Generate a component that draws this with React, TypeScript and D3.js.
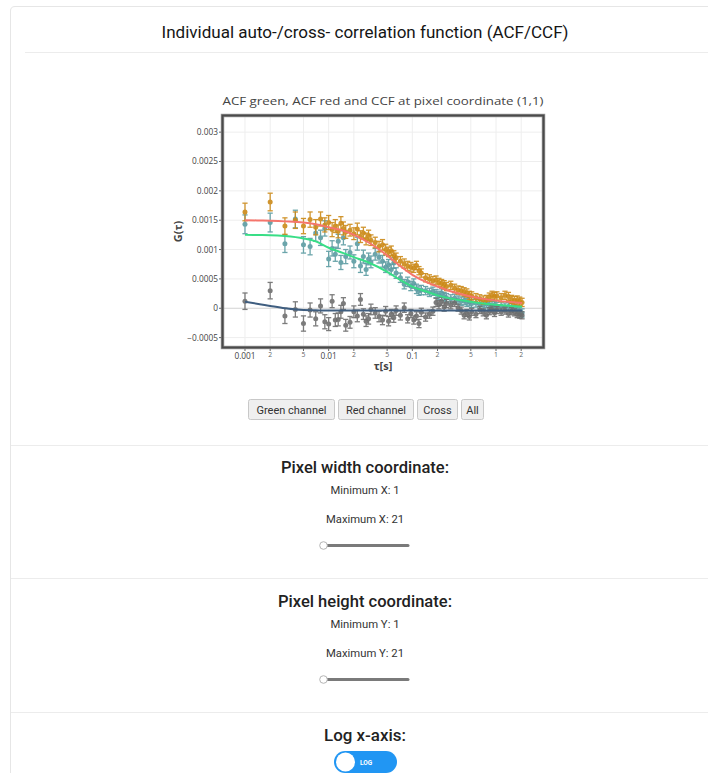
import React from 'react';
import * as d3 from 'd3';

// Lag times (s) of the multiple-tau correlator
const TAU = [
  0.001, 0.002, 0.003, 0.004, 0.005, 0.006, 0.007, 0.008, 0.009, 0.01, 0.011, 0.012, 0.013, 0.014, 0.015, 0.016,
  0.018, 0.02, 0.022, 0.024, 0.026, 0.028, 0.03, 0.032,
  0.036, 0.04, 0.044, 0.048, 0.052, 0.056, 0.06, 0.064,
  0.072, 0.08, 0.088, 0.096, 0.104, 0.112, 0.12, 0.128,
  0.144, 0.16, 0.176, 0.192, 0.208, 0.224, 0.24, 0.256,
  0.288, 0.32, 0.352, 0.384, 0.416, 0.448, 0.48, 0.512,
  0.576, 0.64, 0.704, 0.768, 0.832, 0.896, 0.96, 1.024,
  1.152, 1.28, 1.408, 1.536, 1.664, 1.792, 1.92, 2.048,
];

// ACF of the green channel
const ACF_GREEN = [
  0.00143, 0.00146, 0.0011, 0.00152, 0.00108, 0.00105, 0.00128, 0.0012, 0.00136, 0.00084, 0.00102, 0.00092, 0.00114, 0.00078, 0.0012, 0.00088,
  0.00095, 0.0008, 0.0011, 0.00072, 0.00088, 0.00066, 0.00084, 0.00079,
  0.00092, 0.00087, 0.0008, 0.0007, 0.00074, 0.00066, 0.00077, 0.0006,
  0.00052, 0.00041, 0.00045, 0.00038, 0.00042, 0.00033, 0.0003, 0.00031,
  0.0003, 0.00027, 0.00029, 0.00025, 0.00022, 0.00026, 0.0002, 0.00018,
  0.00016, 0.00017, 0.00014, 0.00012, 0.00013, 0.0001, 0.00011, 0.00008,
  0.00009, 0.00007, 0.00005, 0.00008, 0.00006, 0.00004, 0.00005, 0.00003,
  0.00004, 0.00002, 0.00003, 0.00001, 0.00002, -0.00002, -0.00005, -0.00008,
];
const ACF_GREEN_ERR = [
  0.00016, 0.00016, 0.00015, 0.00015, 0.00014, 0.00014, 0.00014, 0.00013, 0.00013, 0.00013, 0.00013, 0.00012, 0.00012, 0.00012, 0.00012, 0.00012,
  0.00011, 0.00011, 0.00011, 0.00011, 0.00011, 0.0001, 0.0001, 0.0001,
  0.0001, 0.0001, 0.0001, 0.00009, 0.00009, 0.00009, 0.00009, 0.00009,
  0.00008, 0.00008, 0.00008, 0.00008, 0.00008, 0.00008, 0.00008, 0.00008,
  0.00007, 0.00007, 0.00007, 0.00007, 0.00007, 0.00007, 0.00007, 0.00007,
  0.00007, 0.00007, 0.00007, 0.00007, 0.00007, 0.00007, 0.00007, 0.00007,
  0.00007, 0.00007, 0.00007, 0.00007, 0.00007, 0.00007, 0.00007, 0.00007,
  0.00007, 0.00007, 0.00007, 0.00007, 0.00007, 0.00007, 0.00007, 0.00007,
];

// ACF of the red channel
const ACF_RED = [
  0.00164, 0.00181, 0.0014, 0.0015, 0.0014, 0.00151, 0.00138, 0.00152, 0.00142, 0.00146, 0.00134, 0.0014, 0.00131, 0.00145, 0.00136, 0.0013,
  0.00133, 0.00127, 0.00135, 0.00122, 0.00128, 0.00118, 0.00124, 0.00116,
  0.00112, 0.00105, 0.00108, 0.001, 0.00096, 0.00098, 0.0009, 0.00086,
  0.0008, 0.00076, 0.00072, 0.0007, 0.00068, 0.00073, 0.00064, 0.0006,
  0.00052, 0.0005, 0.00047, 0.00048, 0.00044, 0.00042, 0.0004, 0.00037,
  0.00039, 0.00034, 0.00031, 0.0003, 0.00028, 0.00026, 0.00022, 0.00021,
  0.00018, 0.00016, 0.00014, 0.00015, 0.00019, 0.00022, 0.0002, 0.00021,
  0.00018, 0.00022, 0.0002, 0.00015, 0.00013, 0.00014, 0.00012, 0.0001,
];
const ACF_RED_ERR = [
  0.00015, 0.00015, 0.00014, 0.00014, 0.00013, 0.00013, 0.00013, 0.00012, 0.00012, 0.00012, 0.00012, 0.00011, 0.00011, 0.00011, 0.00011, 0.00011,
  0.0001, 0.0001, 0.0001, 0.0001, 0.0001, 0.0001, 0.00009, 0.00009,
  0.00009, 0.00009, 0.00009, 0.00009, 0.00008, 0.00008, 0.00008, 0.00008,
  0.00008, 0.00008, 0.00008, 0.00008, 0.00007, 0.00007, 0.00007, 0.00007,
  0.00007, 0.00007, 0.00007, 0.00007, 0.00007, 0.00007, 0.00007, 0.00007,
  0.00007, 0.00007, 0.00007, 0.00007, 0.00007, 0.00007, 0.00007, 0.00007,
  0.00007, 0.00007, 0.00007, 0.00007, 0.00007, 0.00007, 0.00007, 0.00007,
  0.00007, 0.00007, 0.00007, 0.00007, 0.00007, 0.00007, 0.00007, 0.00007,
];

// CCF between the two channels
const CCF = [
  0.00012, 0.0003, -0.00013, -0.00002, -0.00026, -0.00003, -0.00018, 0.00004, -0.00023, -0.00027, 0.00012, -0.0002, -0.00019, -0.00006, 0.00008, -0.00029,
  -0.00024, -0.00006, -0.00013, 0.00015, -0.0001, -0.00022, -0.00018, -0.00002,
  -0.00008, -0.00014, -0.0002, -0.00005, -0.00022, -0.0001, -0.00016, -0.00004,
  -0.00012, 0.00001, -0.00018, -0.00009, -0.0002, -0.00013, -0.00026, -0.00007,
  -0.00015, -0.0001, -0.00005, 0.0001, 0.00006, 0.00012, 0.00002, 0.00008,
  0.00005, 0.00009, 0.00001, -0.00004, -0.00012, -0.00008, -0.00014, -0.00006,
  -0.0001, -0.00003, -0.00007, -0.00012, -0.00005, -0.00002, -0.00008, -0.00003,
  -0.00006, -0.00004, -0.00009, -0.00005, -0.00007, -0.0001, -0.00011, -0.00012,
];
const CCF_ERR = [
  0.00014, 0.00014, 0.00013, 0.00013, 0.00013, 0.00012, 0.00012, 0.00012, 0.00012, 0.00011, 0.00011, 0.00011, 0.00011, 0.00011, 0.0001, 0.0001,
  0.0001, 0.0001, 0.0001, 0.0001, 0.00009, 0.00009, 0.00009, 0.00009,
  0.00009, 0.00009, 0.00008, 0.00008, 0.00008, 0.00008, 0.00008, 0.00008,
  0.00008, 0.00008, 0.00007, 0.00007, 0.00007, 0.00007, 0.00007, 0.00007,
  0.00007, 0.00007, 0.00007, 0.00007, 0.00007, 0.00007, 0.00007, 0.00007,
  0.00006, 0.00006, 0.00006, 0.00006, 0.00006, 0.00006, 0.00006, 0.00006,
  0.00006, 0.00006, 0.00006, 0.00006, 0.00006, 0.00006, 0.00006, 0.00006,
  0.00006, 0.00006, 0.00006, 0.00006, 0.00006, 0.00006, 0.00006, 0.00006,
];

// Fitted model curves
const FIT_TAU = [0.001, 0.0015, 0.002, 0.003, 0.005, 0.007, 0.01, 0.015, 0.02, 0.03, 0.05, 0.07, 0.1, 0.15, 0.2, 0.3, 0.5, 0.7, 1, 1.5, 2.048];
const FIT_GREEN = [0.00125, 0.001248, 0.001245, 0.00123, 0.00119, 0.00114, 0.00103, 0.00094, 0.00087, 0.00078, 0.00062, 0.00049, 0.00037, 0.00028, 0.00022, 0.00016, 0.00011, 0.00008, 0.00006, 0.00004, 0.000025];
const FIT_RED = [0.0015, 0.001495, 0.00149, 0.00148, 0.00146, 0.00143, 0.00138, 0.00132, 0.00125, 0.00112, 0.0009, 0.00073, 0.00057, 0.00044, 0.00037, 0.00028, 0.0002, 0.00016, 0.00013, 0.000105, 0.00009];
const FIT_CROSS = [0.00011, 0.00007, 0.00004, 0.0, -0.00003, -0.000035, -0.00004, -0.00004, -0.00004, -0.00004, -0.00004, -0.00004, -0.00004, -0.00004, -0.00004, -0.00004, -0.00004, -0.00004, -0.00004, -0.00004, -0.00004];

const X_TICKS = [0.001, 0.002, 0.005, 0.01, 0.02, 0.05, 0.1, 0.2, 0.5, 1, 2];
const X_TICK_LABELS = ['0.001', '2', '5', '0.01', '2', '5', '0.1', '2', '5', '1', '2'];
const Y_TICKS = [-0.0005, 0, 0.0005, 0.001, 0.0015, 0.002, 0.0025, 0.003];
const Y_TICK_LABELS = ['\u22120.0005', '0', '0.0005', '0.001', '0.0015', '0.002', '0.0025', '0.003'];

const BUTTONS = ['Green channel', 'Red channel', 'Cross', 'All'];
const BUTTON_WIDTHS = [86, 75, 40, 22];

const COLORS = {
  green: '#5c9ca2',
  red: '#cc8a18',
  cross: '#6e6e6e',
  fitGreen: '#38de86',
  fitRed: '#f5756c',
  fitCross: '#3f5e80',
};

const PLOT = { left: 223, right: 543, top: 116, bottom: 347 };
const UI_FONT = 'Roboto, "Liberation Sans", Arial, sans-serif';
const PLOT_FONT = '"Open Sans", "DejaVu Sans", sans-serif';
const CX = 365;

function Series({ xs, ys, es, color, x, y }: any) {
  return (
    <g>
      {xs.map((t: number, i: number) => {
        const px = x(t);
        const y0 = y(ys[i] - es[i]);
        const y1 = y(ys[i] + es[i]);
        return (
          <g key={i} stroke={color} strokeWidth={1.3} opacity={0.9}>
            <line x1={px} x2={px} y1={y0} y2={y1} />
            <line x1={px - 2.6} x2={px + 2.6} y1={y0} y2={y0} />
            <line x1={px - 2.6} x2={px + 2.6} y1={y1} y2={y1} />
            <circle cx={px} cy={y(ys[i])} r={2.5} fill={color} stroke="none" />
          </g>
        );
      })}
    </g>
  );
}

function Slider({ cy }: { cy: number }) {
  return (
    <g>
      <line x1={325} x2={408} y1={cy} y2={cy} stroke="#7a7a7a" strokeWidth={3} strokeLinecap="round" />
      <circle cx={323.5} cy={cy} r={3.8} fill="#fff" stroke="#b5b5b5" strokeWidth={1} />
    </g>
  );
}

export default function App() {
  const x = d3.scaleLog().domain([0.000546, 3.644]).range([PLOT.left, PLOT.right]);
  const y = d3.scaleLinear().domain([-0.00066, 0.003275]).range([PLOT.bottom, PLOT.top]);

  const fitLine = (vals: number[]) =>
    d3
      .line<number>()
      .x((_, i) => x(FIT_TAU[i]))
      .y((v) => y(v))
      .curve(d3.curveMonotoneX)(vals) || '';

  let bx = 248;
  const buttons = BUTTONS.map((label, i) => {
    const w = BUTTON_WIDTHS[i];
    const g = (
      <g key={label}>
        <rect x={bx + 0.5} y={399.5} width={w} height={20} rx={2} fill="#efefef" stroke="#c8c8c8" />
        <text x={bx + w / 2 + 0.5} y={413.5} textAnchor="middle" fontSize={11} fill="#333" fontFamily={UI_FONT}>
          {label}
        </text>
      </g>
    );
    bx += w + 4;
    return g;
  });

  return (
    <svg
      width={708}
      height={773}
      style={{ position: 'absolute', left: 0, top: 0, background: '#fff' }}
      fontFamily={UI_FONT}
    >
      {/* card */}
      <path d="M10.5,773 V11 Q10.5,6.5 15,6.5 H708" fill="none" stroke="#e6e6e6" />
      <text x={CX} y={37.5} textAnchor="middle" fontSize={16} fill="#151515" textLength={407} lengthAdjust="spacingAndGlyphs">
        Individual auto-/cross- correlation function (ACF/CCF)
      </text>
      <line x1={25} x2={708} y1={52.5} y2={52.5} stroke="#ececec" />

      {/* plot title */}
      <text x={(PLOT.left + PLOT.right) / 2} y={105} textAnchor="middle" fontSize={11.5} fill="#444" fontFamily={PLOT_FONT} textLength={321} lengthAdjust="spacingAndGlyphs">
        ACF green, ACF red and CCF at pixel coordinate (1,1)
      </text>

      {/* grid */}
      <g stroke="#eeeeee" strokeWidth={1}>
        {X_TICKS.map((t) => (
          <line key={'gx' + t} x1={x(t)} x2={x(t)} y1={PLOT.top} y2={PLOT.bottom} />
        ))}
        {Y_TICKS.filter((t) => t !== 0).map((t) => (
          <line key={'gy' + t} x1={PLOT.left} x2={PLOT.right} y1={y(t)} y2={y(t)} />
        ))}
      </g>
      <line x1={PLOT.left} x2={PLOT.right} y1={y(0)} y2={y(0)} stroke="#d2d2d2" strokeWidth={1} />

      {/* data with error bars */}
      <Series xs={TAU} ys={ACF_GREEN} es={ACF_GREEN_ERR} color={COLORS.green} x={x} y={y} />
      <Series xs={TAU} ys={ACF_RED} es={ACF_RED_ERR} color={COLORS.red} x={x} y={y} />
      <Series xs={TAU} ys={CCF} es={CCF_ERR} color={COLORS.cross} x={x} y={y} />

      {/* fits */}
      <path d={fitLine(FIT_GREEN)} fill="none" stroke={COLORS.fitGreen} strokeWidth={2} />
      <path d={fitLine(FIT_RED)} fill="none" stroke={COLORS.fitRed} strokeWidth={2} />
      <path d={fitLine(FIT_CROSS)} fill="none" stroke={COLORS.fitCross} strokeWidth={2} />

      {/* frame */}
      <rect x={PLOT.left - 0.5} y={PLOT.top - 0.5} width={PLOT.right - PLOT.left + 1} height={PLOT.bottom - PLOT.top + 1} fill="none" stroke="#9a9a9a" strokeWidth={3.5} />
      <rect x={PLOT.left - 0.5} y={PLOT.top - 0.5} width={PLOT.right - PLOT.left + 1} height={PLOT.bottom - PLOT.top + 1} fill="none" stroke="#4a4a4a" strokeWidth={2} />

      {/* y axis */}
      {Y_TICKS.map((t, i) => (
        <g key={'yt' + t}>
          <line x1={PLOT.left - 4} x2={PLOT.left - 1.5} y1={y(t)} y2={y(t)} stroke="#666" strokeWidth={1} />
          <text x={PLOT.left - 5} y={y(t) + 3} textAnchor="end" fontSize={8.3} fill="#444" fontFamily={PLOT_FONT}>
            {Y_TICK_LABELS[i]}
          </text>
        </g>
      ))}
      <text
        transform={`translate(${182},${(PLOT.top + PLOT.bottom) / 2}) rotate(-90)`}
        textAnchor="middle"
        fontSize={11}
        fontWeight="bold"
        fill="#444"
        fontFamily={PLOT_FONT}
      >
        G(τ)
      </text>

      {/* x axis */}
      {X_TICKS.map((t, i) => {
        const major = X_TICK_LABELS[i].length > 1;
        return (
          <g key={'xt' + t}>
            <line x1={x(t)} x2={x(t)} y1={PLOT.bottom + 1.5} y2={PLOT.bottom + 4} stroke="#666" strokeWidth={1} />
            <text
              x={x(t)}
              y={major ? 358.5 : 357}
              textAnchor="middle"
              fontSize={major ? 8.3 : 6.8}
              fill={major ? '#444' : '#666'}
              fontFamily={PLOT_FONT}
            >
              {X_TICK_LABELS[i]}
            </text>
          </g>
        );
      })}
      <text x={(PLOT.left + PLOT.right) / 2} y={370} textAnchor="middle" fontSize={11} fontWeight="bold" fill="#444" fontFamily={PLOT_FONT}>
        τ[s]
      </text>

      {/* channel buttons */}
      {buttons}

      {/* pixel width section */}
      <line x1={11} x2={708} y1={445.5} y2={445.5} stroke="#ececec" />
      <text x={CX} y={473} textAnchor="middle" fontSize={16} fontWeight={500} fill="#222" textLength={168} lengthAdjust="spacingAndGlyphs">
        Pixel width coordinate:
      </text>
      <text x={CX} y={494} textAnchor="middle" fontSize={11} fill="#333" textLength={69} lengthAdjust="spacingAndGlyphs">
        Minimum X: 1
      </text>
      <text x={CX} y={522.5} textAnchor="middle" fontSize={11} fill="#333" textLength={78} lengthAdjust="spacingAndGlyphs">
        Maximum X: 21
      </text>
      <Slider cy={545.5} />

      {/* pixel height section */}
      <line x1={11} x2={708} y1={578.5} y2={578.5} stroke="#ececec" />
      <text x={CX} y={607} textAnchor="middle" fontSize={16} fontWeight={500} fill="#222" textLength={174} lengthAdjust="spacingAndGlyphs">
        Pixel height coordinate:
      </text>
      <text x={CX} y={628} textAnchor="middle" fontSize={11} fill="#333" textLength={69} lengthAdjust="spacingAndGlyphs">
        Minimum Y: 1
      </text>
      <text x={CX} y={656.5} textAnchor="middle" fontSize={11} fill="#333" textLength={78} lengthAdjust="spacingAndGlyphs">
        Maximum Y: 21
      </text>
      <Slider cy={679.5} />

      {/* log axis toggle */}
      <line x1={11} x2={708} y1={712.5} y2={712.5} stroke="#ececec" />
      <text x={CX} y={741} textAnchor="middle" fontSize={16} fontWeight={500} fill="#222" textLength={82} lengthAdjust="spacingAndGlyphs">
        Log x-axis:
      </text>
      <rect x={334} y={751} width={63} height={22} rx={11} fill="#2196f3" />
      <circle cx={345.5} cy={762} r={9.5} fill="#fff" />
      <text x={366} y={764.5} textAnchor="middle" fontSize={6.5} fontWeight="bold" fill="#fff">
        LOG
      </text>
    </svg>
  );
}
